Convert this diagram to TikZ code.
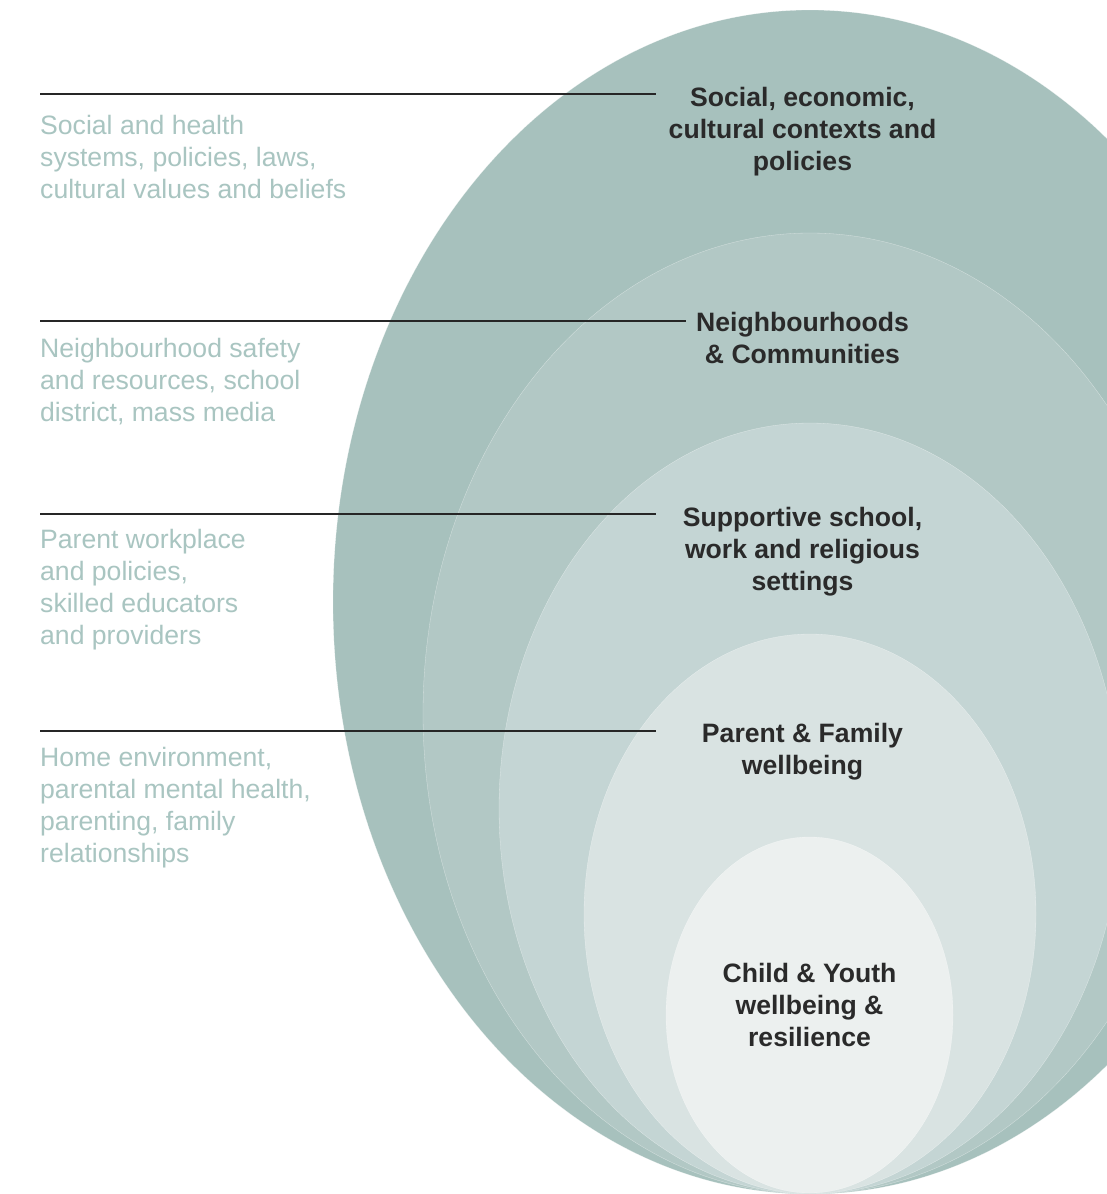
\documentclass[tikz,border=0pt]{standalone}
\usepackage{fontspec}
\setmainfont{Liberation Sans}
\definecolor{ringA}{HTML}{A7C1BD}
\definecolor{ringB}{HTML}{B2C8C5}
\definecolor{ringC}{HTML}{C4D5D4}
\definecolor{ringD}{HTML}{D9E3E2}
\definecolor{ringE}{HTML}{ECF0EF}
\definecolor{sidetext}{HTML}{A9C5C1}
\definecolor{darktext}{HTML}{2A2A2A}
\definecolor{leaderline}{HTML}{262626}
\begin{document}
\begin{tikzpicture}[x=1pt,y=-1pt,
  ring/.style={draw=white,draw opacity=0.5,line width=0.3pt},
  sidelabel/.style={anchor=north west,inner sep=0pt,align=left,text=sidetext,
    font=\fontsize{26.6}{32}\selectfont},
  ringlabel/.style={anchor=north,inner sep=0pt,align=center,text=darktext,
    font=\fontsize{26.6}{32}\selectfont\bfseries},
  leader/.style={draw=leaderline,line width=1.2pt}]
\useasboundingbox (0,0) rectangle (1107,1194);
\clip (0,0) rectangle (1107,1194);
\fill[white] (0,0) rectangle (1107,1194);
% rings
\filldraw[ring,fill=ringA] (810,602) ellipse [x radius=477,y radius=592];
\filldraw[ring,fill=ringB] (810,713.5) ellipse [x radius=387,y radius=480.5];
\filldraw[ring,fill=ringC] (810,808.5) ellipse [x radius=311,y radius=385.5];
\filldraw[ring,fill=ringD] (810,914) ellipse [x radius=226,y radius=280];
\filldraw[ring,fill=ringE] (809.5,1015) ellipse [x radius=143.5,y radius=178];
% leader lines
\coordinate (l1a) at (40,94);  \coordinate (l1b) at (656,94);
\coordinate (l2a) at (40,321); \coordinate (l2b) at (686,321);
\coordinate (l3a) at (40,514); \coordinate (l3b) at (656,514);
\coordinate (l4a) at (40,731); \coordinate (l4b) at (656,731);
\draw[leader] (l1a) -- (l1b);
\draw[leader] (l2a) -- (l2b);
\draw[leader] (l3a) -- (l3b);
\draw[leader] (l4a) -- (l4b);
% side texts
\node[sidelabel] (s1) at (40,115) {Social and health\\systems, policies, laws,\\cultural values and beliefs};
\node[sidelabel] (s2) at (40,338) {Neighbourhood safety\\and resources, school\\district, mass media};
\node[sidelabel] (s3) at (40,529) {Parent workplace\\and policies,\\skilled educators\\and providers};
\node[sidelabel] (s4) at (40,747) {Home environment,\\parental mental health,\\parenting, family\\relationships};
% ring labels
\node[ringlabel] (r1) at (802.5,87) {Social, economic,\\cultural contexts and\\policies};
\node[ringlabel] (r2) at (802.5,312) {Neighbourhoods\\\& Communities};
\node[ringlabel] (r3) at (802.5,507) {Supportive school,\\work and religious\\settings};
\node[ringlabel] (r4) at (802.5,723) {Parent \& Family\\wellbeing};
\node[ringlabel] (r5) at (809.5,963) {Child \& Youth\\wellbeing \&\\resilience};
\end{tikzpicture}
\end{document}
